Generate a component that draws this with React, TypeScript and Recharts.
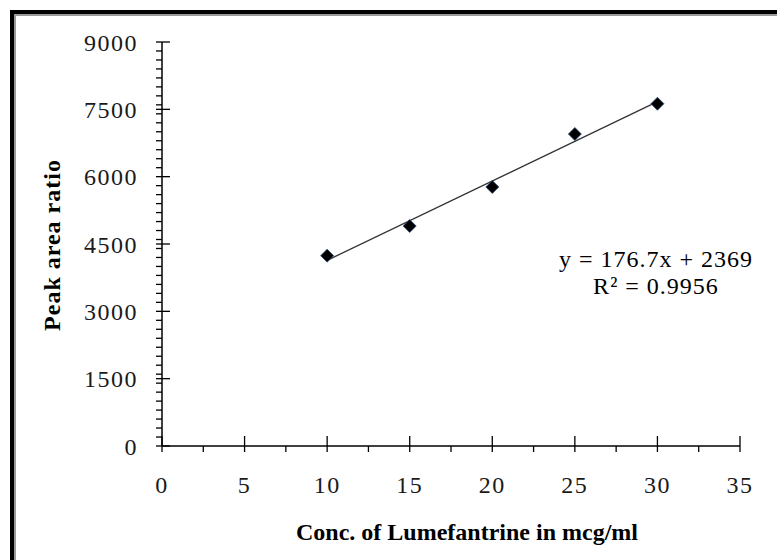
import React from 'react';
import { ScatterChart, Scatter, XAxis, YAxis } from 'recharts';

// calibration points
const concentrations = [10, 15, 20, 25, 30];
const peakRatios = [4240, 4900, 5770, 6950, 7625];

// trendline end points (y = 176.7x + 2369)
const trendX = [10, 30];
const trendY = [4136, 7670];

const xMajorTicks = [0, 5, 10, 15, 20, 25, 30, 35];
const xMinorTicks = [2.5, 7.5, 12.5, 17.5, 22.5, 27.5, 32.5];
const yMajorTicks = [0, 1500, 3000, 4500, 6000, 7500, 9000];
const yMinorTicks = [
  200, 400, 600, 800, 1000, 1200, 1400, 1600, 1800, 2000, 2200, 2400, 2600, 2800,
  3200, 3400, 3600, 3800, 4000, 4200, 4400, 4600, 4800, 5000, 5200, 5400, 5600, 5800,
  6200, 6400, 6600, 6800, 7000, 7200, 7400, 7600, 7800, 8000, 8200, 8400, 8600, 8800
];

const equationLines = ['y = 176.7x + 2369', 'R² = 0.9956'];

const points = concentrations.map((x, i) => ({ x, y: peakRatios[i] }));
const trend = trendX.map((x, i) => ({ x, y: trendY[i] }));

const serif = '"Liberation Serif", "Times New Roman", serif';
const X_GAP = 30; // axis line to top of x labels
const Y_GAP = 24; // axis line to right edge of y labels

const Diamond: React.FC<any> = ({ cx, cy }) => {
  const r = 6.5;
  return (
    <polygon
      points={`${cx},${cy - r} ${cx + r},${cy} ${cx},${cy + r} ${cx - r},${cy}`}
      fill="#000"
      stroke="#2b4a78"
      strokeWidth={0.8}
    />
  );
};

// major ticks cross the axis, minor ticks sit outside only
const XTick: React.FC<any> = ({ x, y, payload }) => {
  const axisY = y - X_GAP;
  const major = xMajorTicks.includes(payload.value);
  return (
    <g>
      <line x1={x} x2={x} y1={major ? axisY - 10 : axisY} y2={axisY + 6} stroke="#000" strokeWidth={1.3} />
      {major && (
        <text x={x} y={y} dy="0.71em" textAnchor="middle" fontFamily={serif} fontSize={24} fill="#1a1a1a" letterSpacing={1.5}>
          {payload.value}
        </text>
      )}
    </g>
  );
};

const YTick: React.FC<any> = ({ x, y, payload }) => {
  const axisX = x + Y_GAP;
  const major = yMajorTicks.includes(payload.value);
  return (
    <g>
      <line x1={axisX - 6} x2={major ? axisX + 8 : axisX} y1={y} y2={y} stroke="#000" strokeWidth={1.3} />
      {major && (
        <text x={x} y={y} dy="0.355em" textAnchor="end" fontFamily={serif} fontSize={24} fill="#1a1a1a" letterSpacing={1.5}>
          {payload.value}
        </text>
      )}
    </g>
  );
};

const NoDot = () => <g />;

export default function App() {
  return (
    <div style={{ position: 'absolute', left: 0, top: 0, width: 777, height: 560, background: '#fff', overflow: 'hidden' }}>
      {/* frame */}
      <div
        style={{
          position: 'absolute',
          left: 10,
          top: 10,
          width: 800,
          height: 600,
          borderLeft: '4px solid #000',
          borderTop: '4px solid #000'
        }}>
        <div style={{ width: '100%', height: '100%', borderLeft: '2px solid #9a9a9a', borderTop: '2px solid #9a9a9a' }} />
      </div>

      <div style={{ position: 'absolute', left: 0, top: 0 }}>
        <ScatterChart width={777} height={560} margin={{ top: 42, right: 37, left: 82, bottom: 74 }}>
          <XAxis
            type="number"
            dataKey="x"
            domain={[0, 35]}
            ticks={[...xMajorTicks, ...xMinorTicks].sort((a, b) => a - b)}
            interval={0}
            height={40}
            tickSize={0}
            tickMargin={X_GAP}
            axisLine={{ stroke: '#000', strokeWidth: 1.5 }}
            tickLine={false}
            tick={<XTick />}
          />
          <YAxis
            type="number"
            dataKey="y"
            domain={[0, 9000]}
            ticks={[...yMajorTicks, ...yMinorTicks].sort((a, b) => a - b)}
            interval={0}
            width={80}
            tickSize={0}
            tickMargin={Y_GAP}
            axisLine={{ stroke: '#000', strokeWidth: 1.5 }}
            tickLine={false}
            tick={<YTick />}
          />
          <Scatter
            data={trend}
            line={{ stroke: '#333', strokeWidth: 1.3 }}
            shape={NoDot}
            isAnimationActive={false}
          />
          <Scatter data={points} shape={Diamond} isAnimationActive={false} />
        </ScatterChart>
      </div>

      <div
        style={{
          position: 'absolute',
          left: 52,
          top: 245,
          transform: 'translate(-50%, -50%) rotate(-90deg)',
          whiteSpace: 'nowrap',
          fontFamily: serif,
          fontWeight: 'bold',
          fontSize: 24,
          letterSpacing: 1,
          color: '#000'
        }}>
        Peak area ratio
      </div>
      <div
        style={{
          position: 'absolute',
          left: 467,
          top: 532,
          transform: 'translate(-50%, -50%)',
          whiteSpace: 'nowrap',
          fontFamily: serif,
          fontWeight: 'bold',
          fontSize: 24,
          color: '#000'
        }}>
        Conc. of Lumefantrine in mcg/ml
      </div>
      <div
        style={{
          position: 'absolute',
          left: 656,
          top: 246,
          transform: 'translateX(-50%)',
          textAlign: 'center',
          whiteSpace: 'nowrap',
          fontFamily: serif,
          fontSize: 24,
          lineHeight: '27px',
          letterSpacing: 1,
          color: '#000'
        }}>
        {equationLines.map((l) => (
          <div key={l}>{l}</div>
        ))}
      </div>
    </div>
  );
}
